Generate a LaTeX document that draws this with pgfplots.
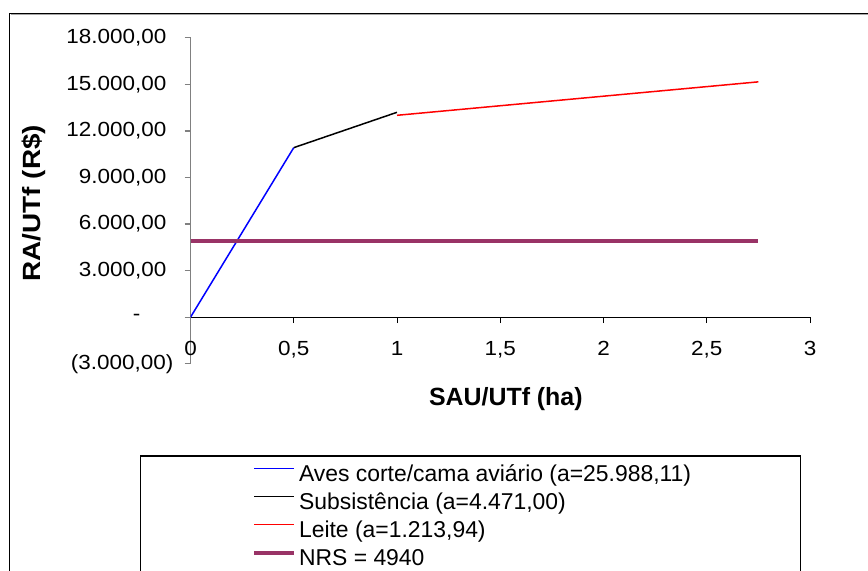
\documentclass[border=0pt]{standalone}
\usepackage{fontspec}
\setmainfont{Liberation Sans}
\newfontfamily\tickfont[FakeStretch=1.1]{Liberation Sans}
\newfontfamily\ytitlefont[FakeStretch=1.12]{Liberation Sans}
\usepackage{pgfplots}
\pgfplotsset{compat=1.18}
\definecolor{nrs}{RGB}{153,51,102}
\begin{document}
\begin{tikzpicture}[x=1bp,y=1bp]
\useasboundingbox (0,0) rectangle (868,571);
\draw[gray!70, line width=1bp] (10.5,556) -- (868,556);
\draw[black, line width=1.5bp] (9.5,0) -- (9.5,557.5) -- (868,557.5);
\draw[black, line width=1.2bp] (140.7,0) -- (140.7,115) -- (800.7,115) -- (800.7,0);
\begin{axis}[
  at={(190.5bp,207.2bp)}, anchor=south west,
  scale only axis, width=619.5bp, height=326bp,
  xmin=0, xmax=3, ymin=-3000, ymax=18000,
  scaled y ticks=false, scaled x ticks=false,
  axis x line=middle, axis y line=left,
  hide obscured x ticks=false, hide obscured y ticks=false,
  x axis line style={black, line width=1.2bp, -},
  y axis line style={gray, line width=1.5bp, -},
  xtick={0,0.5,1,1.5,2,2.5,3},
  xticklabels={0,{0,5},1,{1,5},2,{2,5},3},
  ytick={-3000,0,3000,6000,9000,12000,15000,18000},
  yticklabels={{(3.000,00)},{-\hspace*{33bp}},{3.000,00\hspace*{7bp}},{6.000,00\hspace*{7bp}},{9.000,00\hspace*{7bp}},{12.000,00\hspace*{7bp}},{15.000,00\hspace*{7bp}},{18.000,00\hspace*{7bp}}},
  tick align=outside,
  x tick style={black, line width=1bp},
  y tick style={gray, line width=1.2bp},
  major tick length=6bp,
  xticklabel style={font=\tickfont\fontsize{20.5}{24}\selectfont, anchor=north, inner sep=0pt, yshift=-18bp},
  yticklabel style={font=\tickfont\fontsize{20.5}{24}\selectfont, anchor=east, inner sep=0pt, xshift=-11bp},
  xlabel={SAU/UTf (ha)},
  ylabel={RA/UTf (R\$)},
  xlabel style={font=\bfseries\fontsize{25}{30}\selectfont, at={(axis description cs:0.509,-0.108)}, anchor=center},
  ylabel style={font=\ytitlefont\bfseries\fontsize{25}{30}\selectfont, at={(axis description cs:-0.2526,0.493)}, anchor=center, rotate=0},
  legend style={at={(axis description cs:0.099,-0.300)}, anchor=north west, draw=none, fill=none, inner sep=0pt, row sep=0bp, column sep=3bp, font=\fontsize{23}{27}\selectfont, nodes={inner sep=0pt, text height=18.5bp, text depth=8bp}},
  legend cell align=left,
  legend image code/.code={\path[draw=none,fill=none] (0bp,-4.25bp) rectangle (40bp,14.75bp); \draw[#1] (0bp,8bp) -- (40bp,8bp);},
]
\addplot[blue, line width=1.5bp] coordinates {(0,0) (0.5,10923)};
\addlegendentry{Aves corte/cama aviário (a=25.988,11)}
\addplot[black, line width=1.5bp] coordinates {(0.5,10923) (1,13200)};
\addlegendentry{Subsistência (a=4.471,00)}
\addplot[red, line width=1.5bp] coordinates {(1,13007) (2.75,15162)};
\addlegendentry{Leite (a=1.213,94)}
\addplot[nrs, line width=4bp] coordinates {(0,4940) (2.75,4940)};
\addlegendentry{NRS = 4940}
\end{axis}
\end{tikzpicture}
\end{document}
